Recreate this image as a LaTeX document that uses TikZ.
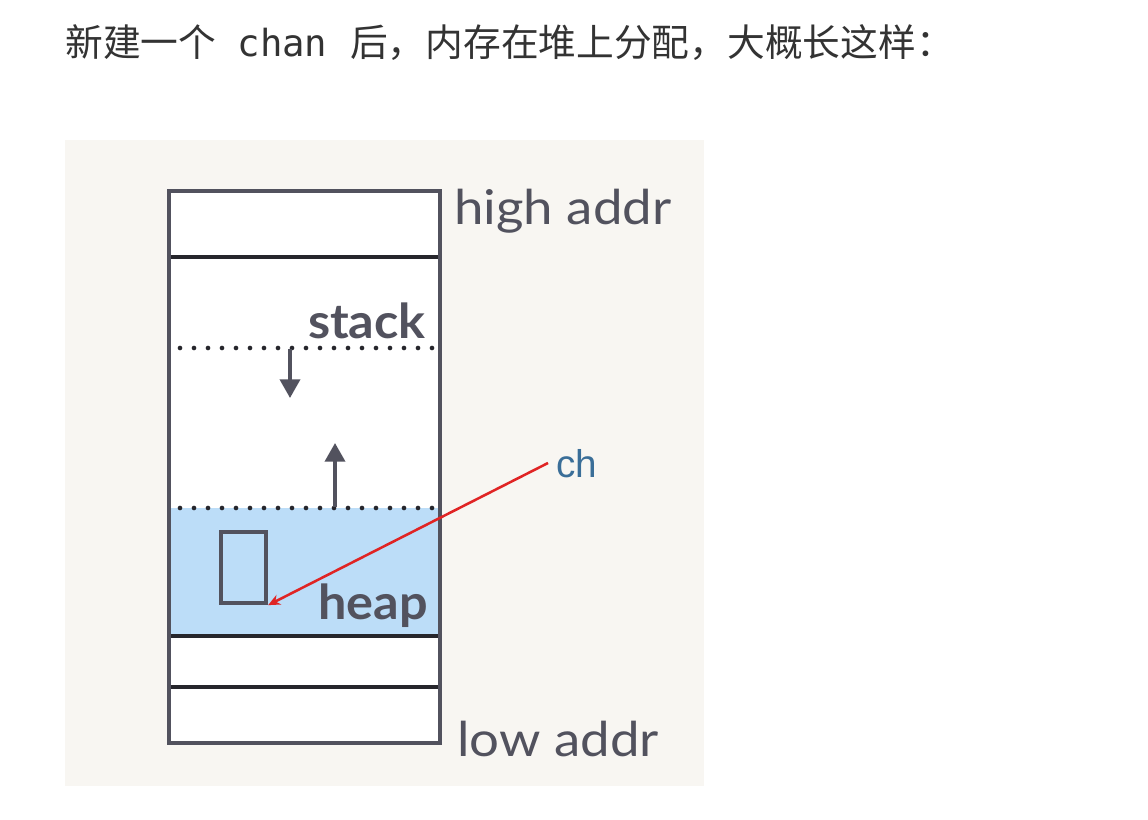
\documentclass[tikz,border=0pt]{standalone}
\usepackage{fontspec}
\setmainfont{Lato}
\newfontfamily\cjkfont{Noto Sans CJK SC}
\newfontfamily\codefont{DejaVu Sans Mono}
\newfontfamily\labfont{Lato}
\newfontfamily\chfont{Liberation Sans}
\usetikzlibrary{arrows.meta}
\definecolor{bgc}{HTML}{F8F6F2}
\definecolor{boxc}{HTML}{52525E}
\definecolor{linec}{HTML}{26262C}
\definecolor{heapc}{HTML}{BCDDF8}
\definecolor{redc}{HTML}{E02424}
\definecolor{chc}{HTML}{3A6E98}
\definecolor{titlec}{HTML}{333333}
\tikzset{
  boxline/.style={draw=boxc, line width=3.2pt},
  divline/.style={draw=linec, line width=2.4pt},
  dotline/.style={draw=linec, line width=3.5pt, line cap=round, dash pattern=on 0pt off 10.5pt},
  growarrow/.style={draw=boxc, line width=2.7pt, -{Triangle[width=15pt,length=14pt]}},
  pointer/.style={draw=redc, line width=1.9pt, -{Stealth[width=8pt,length=9pt]}},
  addrlabel/.style={font=\labfont\fontsize{36}{40}\selectfont, text=boxc, inner sep=0pt},
  seglabel/.style={font=\labfont\bfseries\fontsize{36}{40}\selectfont, text=boxc, inner sep=0pt},
}
\begin{document}
\begin{tikzpicture}[x=0.75pt,y=-0.75pt]
\useasboundingbox (0,0) rectangle (1148,820);
\fill[white] (0,0) rectangle (1148,820);
% title
\node[anchor=base west, inner sep=0pt, text=titlec, font=\cjkfont\fontsize{28.3}{32}\selectfont] (title) at (65,57) {新建一个\hspace{16pt}{\codefont\fontsize{28}{32}\selectfont chan}\hspace{17pt}后，内存在堆上分配，大概长这样：};
% background panel
\fill[bgc] (65,140) rectangle (704,786);
% memory column
\coordinate (tl) at (169,191);
\coordinate (br) at (440,743);
\fill[white] (tl) rectangle (br);
\fill[heapc] (169,508) rectangle (440,636);
\draw[divline] (169,257) -- (440,257);
\draw[divline] (169,636) -- (440,636);
\draw[divline] (169,687) -- (440,687);
\draw[dotline] (180,348) -- (436,348);
\draw[dotline] (180,508) -- (436,508);
\draw[boxline] (tl) rectangle (br);
% chan object
\node[boxline, minimum width=33.75pt, minimum height=53.25pt, inner sep=0pt] (obj) at (243.5,567.5) {};
% growth arrows
\coordinate (sdown0) at (290,349);
\coordinate (sdown1) at (290,398);
\coordinate (hup0) at (335,507);
\coordinate (hup1) at (335,443);
\draw[growarrow] (sdown0) -- (sdown1);
\draw[growarrow] (hup0) -- (hup1);
% labels
\node[addrlabel, anchor=base west] (high) at (454,224) {\scalebox{1.1}[1]{high addr}};
\node[addrlabel, anchor=base west] (low) at (457,756) {\scalebox{1.1}[1]{low addr}};
\node[seglabel, anchor=base east] (stack) at (426,338) {\scalebox{1.05}[1]{stack}};
\node[seglabel, anchor=base east] (heap) at (428,619) {\scalebox{1.05}[1]{heap}};
\node[anchor=base west, inner sep=0pt, text=chc, font=\chfont\fontsize{29}{34}\selectfont] (ch) at (556,477) {ch};
% pointer
\coordinate (pstart) at (548,463);
\draw[pointer] (pstart) -- (obj.south east);
\end{tikzpicture}
\end{document}
